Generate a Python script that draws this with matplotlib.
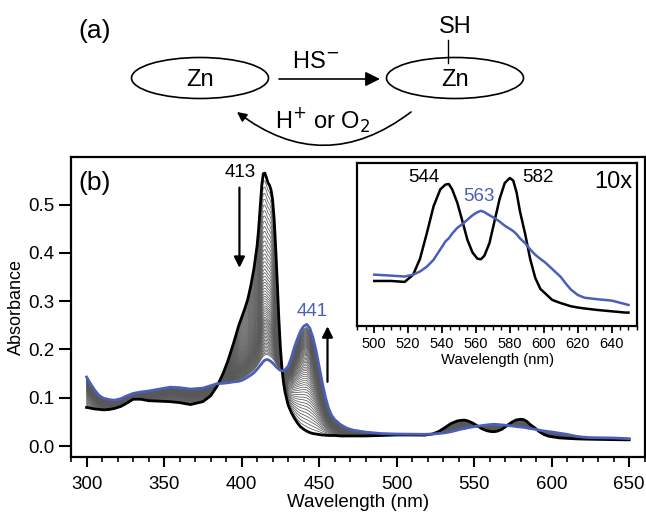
import numpy as np
import matplotlib
matplotlib.use("Agg")
import matplotlib.pyplot as plt
from matplotlib.patches import Ellipse, FancyArrowPatch
from matplotlib.ticker import MultipleLocator

plt.rcParams["font.family"] = ["Liberation Sans", "DejaVu Sans"]

# ---- spectra (absorbance) ----
wavelength = [300, 302, 305, 308, 311, 315, 318, 322, 326, 330, 335, 340, 347, 354, 360,
              367, 375, 380, 384, 388, 391, 395, 398, 400, 402, 404, 406, 408, 410, 411,
              412, 413, 414, 415, 416, 417, 418, 419, 420, 421, 422, 423, 424, 425, 426,
              427, 428, 430, 432, 434, 436, 438, 440, 442, 444, 446, 448, 450, 452, 454,
              456, 458, 460, 464, 468, 472, 480, 490, 500, 510, 518, 523, 527, 531, 535,
              539, 542, 544, 546, 549, 552, 555, 558, 561, 563, 565, 568, 571, 574, 577,
              580, 582, 584, 586, 589, 592, 595, 598, 601, 605, 610, 613, 616, 620, 624,
              632, 640, 648, 650]

# Zn porphyrin before sulfide addition
abs_initial = [0.080, 0.079, 0.077, 0.076, 0.075, 0.076, 0.078, 0.082, 0.089, 0.097, 0.097,
               0.094, 0.093, 0.092, 0.090, 0.086, 0.092, 0.104, 0.123, 0.150, 0.175, 0.215,
               0.248, 0.266, 0.284, 0.304, 0.333, 0.368, 0.415, 0.450, 0.495, 0.540, 0.564,
               0.565, 0.556, 0.545, 0.540, 0.530, 0.510, 0.470, 0.410, 0.340, 0.265, 0.205,
               0.162, 0.132, 0.112, 0.085, 0.070, 0.058, 0.048, 0.040, 0.035, 0.031, 0.028,
               0.026, 0.025, 0.024, 0.023, 0.0225, 0.022, 0.022, 0.022, 0.021, 0.021, 0.021,
               0.021, 0.022, 0.023, 0.023, 0.0227, 0.025, 0.030, 0.038, 0.0466, 0.052,
               0.0535, 0.0537, 0.052, 0.0478, 0.042, 0.036, 0.032, 0.030, 0.0299, 0.031,
               0.035, 0.042, 0.049, 0.054, 0.0556, 0.0548, 0.051, 0.045, 0.038, 0.030,
               0.024, 0.0205, 0.019, 0.017, 0.016, 0.0155, 0.015, 0.0146, 0.0143, 0.0138,
               0.0134, 0.013, 0.013]

# Zn-SH adduct at the end of the titration
abs_final = [0.143, 0.132, 0.117, 0.105, 0.099, 0.096, 0.095, 0.098, 0.104, 0.109, 0.112,
             0.114, 0.118, 0.122, 0.121, 0.118, 0.120, 0.125, 0.129, 0.130, 0.131, 0.133,
             0.134, 0.136, 0.139, 0.143, 0.147, 0.152, 0.159, 0.163, 0.167, 0.171, 0.175,
             0.178, 0.179, 0.179, 0.177, 0.175, 0.172, 0.169, 0.165, 0.162, 0.159, 0.157,
             0.156, 0.156, 0.158, 0.165, 0.182, 0.204, 0.222, 0.238, 0.248, 0.252, 0.244,
             0.225, 0.198, 0.165, 0.132, 0.102, 0.079, 0.064, 0.055, 0.044, 0.037, 0.033,
             0.029, 0.026, 0.025, 0.0247, 0.0244, 0.025, 0.026, 0.0275, 0.0297, 0.033,
             0.0355, 0.0365, 0.038, 0.0398, 0.041, 0.0424, 0.0438, 0.0448, 0.0452, 0.0448,
             0.0438, 0.0429, 0.0418, 0.0405, 0.0395, 0.0388, 0.0378, 0.0365, 0.035, 0.033,
             0.0313, 0.030, 0.0288, 0.0268, 0.0243, 0.0222, 0.0203, 0.0186, 0.0177, 0.0172,
             0.0168, 0.0157, 0.0154]

# Soret-band maxima (413 nm) of the intermediate spectra recorded during the titration
soret_heights = [0.548, 0.535, 0.522, 0.510, 0.498, 0.486, 0.475, 0.464, 0.453, 0.443,
                 0.433, 0.423, 0.414, 0.405, 0.396, 0.388, 0.380, 0.372, 0.364, 0.357,
                 0.350, 0.343, 0.337, 0.331, 0.325, 0.319, 0.313, 0.308, 0.303, 0.298,
                 0.293, 0.288, 0.284, 0.280, 0.276, 0.272, 0.268, 0.264, 0.261, 0.258,
                 0.255, 0.252, 0.249, 0.246, 0.243, 0.240, 0.237, 0.234, 0.231, 0.228,
                 0.225, 0.222, 0.219, 0.216, 0.213, 0.210, 0.207, 0.204, 0.201, 0.198,
                 0.195, 0.192, 0.189, 0.186]

inset_scale = 10

wl = np.array(wavelength, dtype=float)
a0 = np.array(abs_initial)
a1 = np.array(abs_final)
i413 = wavelength.index(414)

blue = "#4a60b8"

fig = plt.figure(figsize=(6.46, 5.12), dpi=100)

# ---- panel (b): main spectra ----
ax = fig.add_axes([0.110, 0.107, 0.888, 0.586])
for h in soret_heights:
    f = (a0[i413] - h) / (a0[i413] - a1[i413])
    ax.plot(wl, a0 + f * (a1 - a0), color="#585858", lw=0.55)
ax.plot(wl, a0, color="black", lw=2.0)
ax.plot(wl, a1, color=blue, lw=2.0)

ax.set_xlim(290, 660)
ax.set_ylim(-0.023, 0.598)
ax.xaxis.set_major_locator(MultipleLocator(50))
ax.xaxis.set_minor_locator(MultipleLocator(10))
ax.yaxis.set_major_locator(MultipleLocator(0.1))
ax.tick_params(axis="x", which="major", direction="out", length=7.5, width=1.5,
               labelsize=13.5, pad=6)
ax.tick_params(axis="x", which="minor", direction="out", length=3.5, width=1.2)
ax.tick_params(axis="y", which="major", direction="out", length=9, width=1.5,
               labelsize=13.5, pad=3)
ax.yaxis.set_tick_params(which="minor", length=0)
for s in ax.spines.values():
    s.set_linewidth(1.6)
ax.set_xlabel("Wavelength (nm)", fontsize=13.5, labelpad=1)
ax.set_ylabel("Absorbance", fontsize=13, labelpad=2)

ax.text(0.012, 0.955, "(b)", transform=ax.transAxes, fontsize=19, va="top", ha="left")
ax.text(399, 0.566, "413", fontsize=13.5, ha="center", va="center")
ax.annotate("", xy=(398.6, 0.369), xytext=(398.6, 0.535),
            arrowprops=dict(arrowstyle="-|>", color="black", lw=1.6,
                            mutation_scale=16, shrinkA=0, shrinkB=0))
ax.text(445.5, 0.279, "441", fontsize=13.5, ha="center", va="center", color=blue)
ax.annotate("", xy=(455.4, 0.248), xytext=(455.4, 0.133),
            arrowprops=dict(arrowstyle="-|>", color="black", lw=1.6,
                            mutation_scale=16, shrinkA=0, shrinkB=0))

# ---- inset: Q bands magnified ----
ins = fig.add_axes([0.553, 0.363, 0.433, 0.319])
vis = wl >= 500
ins.plot(wl[vis], inset_scale * a0[vis], color="black", lw=1.8)
ins.plot(wl[vis], inset_scale * a1[vis], color=blue, lw=1.8)
ins.set_xlim(490, 655)
ins.set_ylim(0.087, 0.604)
ins.set_yticks([])
ins.xaxis.set_major_locator(MultipleLocator(20))
ins.xaxis.set_minor_locator(MultipleLocator(5))
ins.tick_params(which="major", direction="out", length=5, width=1.3, labelsize=10.5, pad=3)
ins.tick_params(which="minor", direction="out", length=3, width=1.0)
for s in ins.spines.values():
    s.set_linewidth(1.6)
ins.set_xlabel("Wavelength (nm)", fontsize=10.7, labelpad=1)
ins.text(529.5, 0.557, "544", fontsize=13.5, ha="center", va="center")
ins.text(596.5, 0.557, "582", fontsize=13.5, ha="center", va="center")
ins.text(561.8, 0.497, "563", fontsize=13.5, ha="center", va="center", color=blue)
ins.text(0.985, 0.95, "10x", transform=ins.transAxes, fontsize=17, ha="right", va="top")

# ---- panel (a): reaction scheme ----
sch = fig.add_axes([0, 0, 1, 1], zorder=5)
sch.set_xlim(0, 646)
sch.set_ylim(512, 0)
sch.axis("off")
sch.patch.set_alpha(0)

sch.text(95, 31, "(a)", fontsize=19, ha="center", va="center")
sch.add_patch(Ellipse((200, 78), 137, 41, fill=False, lw=1.2, ec="black"))
sch.add_patch(Ellipse((455, 78), 137, 41, fill=False, lw=1.2, ec="black"))
sch.text(200, 80, "Zn", fontsize=17, ha="center", va="center")
sch.text(455, 80, "Zn", fontsize=17, ha="center", va="center")
sch.text(455, 27, "SH", fontsize=17, ha="center", va="center")
sch.plot([448, 448], [40, 63], color="black", lw=1.0)
sch.text(316, 62, "HS$^{-}$", fontsize=17, ha="center", va="center")
sch.add_patch(FancyArrowPatch((279, 79), (380, 79), arrowstyle="-|>", mutation_scale=22,
                              lw=1.2, color="black", shrinkA=0, shrinkB=0))
sch.add_patch(FancyArrowPatch((411, 112), (237, 112), connectionstyle="arc3,rad=-0.38",
                              arrowstyle="-|>", mutation_scale=14, lw=1.2, color="black",
                              shrinkA=0, shrinkB=0))
sch.text(323, 120, "H$^{+}$ or O$_{2}$", fontsize=17, ha="center", va="center")

fig.savefig("out.png", dpi=100)
